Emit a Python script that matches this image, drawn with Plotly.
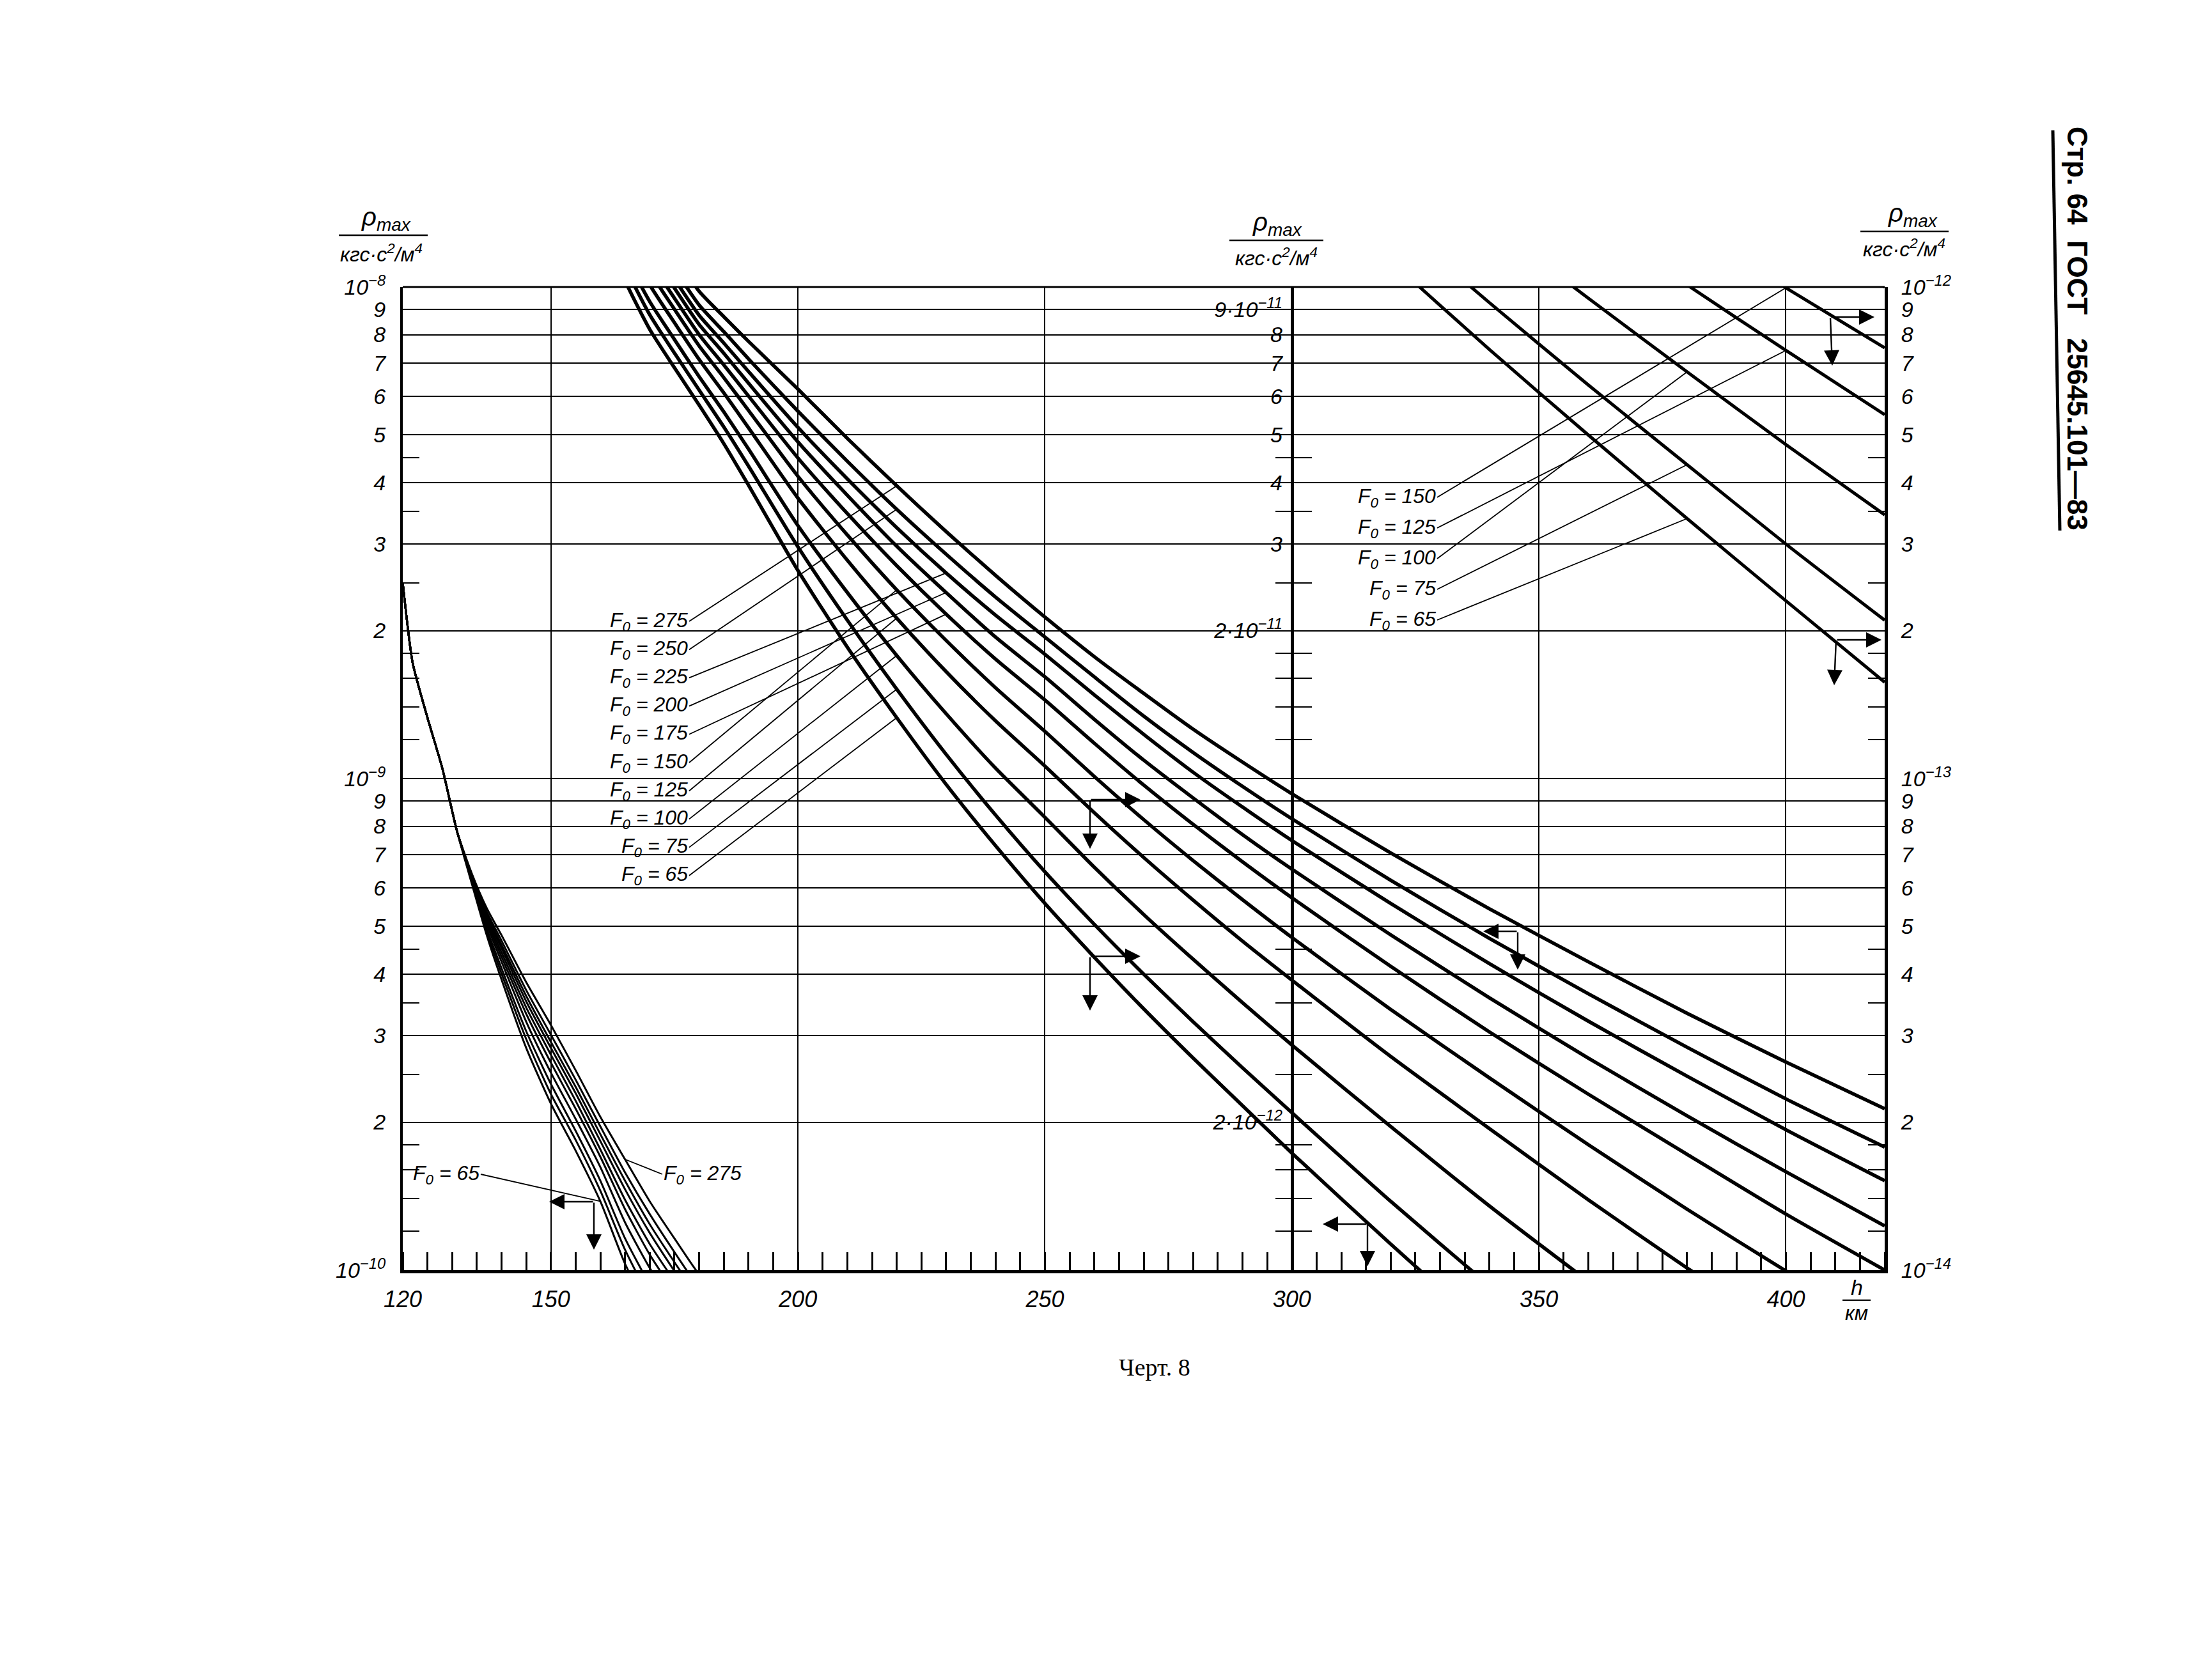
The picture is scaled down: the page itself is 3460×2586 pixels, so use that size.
import math
import plotly.graph_objects as go

# ---------------- data ----------------
h_km = [120, 122, 125, 128, 131, 134, 137, 140, 145, 150, 155, 160, 165, 170, 175, 180, 185, 190,
        200, 210, 220, 230, 240, 250, 260, 270, 280, 290, 300, 320, 340, 360, 380, 400, 420]

F0_levels = [275, 250, 225, 200, 175, 150, 125, 100, 75, 65]

rho_F275 = [2.5e-9, 1.72e-9, 1.33e-9, 1.05e-9, 7.8e-10, 6.4e-10, 5.45e-10, 4.8e-10, 3.85e-10, 3.15e-10,
            2.55e-10, 2.05e-10, 1.68e-10, 1.38e-10, 1.16e-10, 9.8e-11, 8.7e-11, 7.75e-11,
            6.2e-11, 4.92e-11, 3.94e-11, 3.18e-11, 2.59e-11, 2.13e-11, 1.77e-11, 1.49e-11, 1.26e-11, 1.08e-11, 9.31e-12,
            7.06e-12, 5.43e-12, 4.24e-12, 3.33e-12, 2.65e-12, 2.13e-12]
rho_F250 = [2.5e-9, 1.72e-9, 1.33e-9, 1.05e-9, 7.8e-10, 6.37e-10, 5.36e-10, 4.68e-10, 3.71e-10, 3.01e-10,
            2.44e-10, 1.96e-10, 1.58e-10, 1.30e-10, 1.088e-10, 9.19e-11, 8.11e-11, 7.14e-11,
            5.59e-11, 4.42e-11, 3.53e-11, 2.86e-11, 2.34e-11, 1.94e-11, 1.61e-11, 1.34e-11, 1.13e-11, 9.64e-12, 8.28e-12,
            6.21e-12, 4.73e-12, 3.65e-12, 2.84e-12, 2.23e-12, 1.78e-12]
rho_F225 = [2.5e-9, 1.72e-9, 1.33e-9, 1.05e-9, 7.8e-10, 6.34e-10, 5.30e-10, 4.59e-10, 3.61e-10, 2.91e-10,
            2.36e-10, 1.89e-10, 1.52e-10, 1.24e-10, 1.038e-10, 8.76e-11, 7.69e-11, 6.73e-11,
            5.18e-11, 4.07e-11, 3.24e-11, 2.62e-11, 2.15e-11, 1.79e-11, 1.48e-11, 1.23e-11, 1.03e-11, 8.75e-12, 7.48e-12,
            5.57e-12, 4.20e-12, 3.21e-12, 2.48e-12, 1.93e-12, 1.52e-12]
rho_F200 = [2.5e-9, 1.72e-9, 1.33e-9, 1.05e-9, 7.8e-10, 6.32e-10, 5.25e-10, 4.52e-10, 3.52e-10, 2.83e-10,
            2.29e-10, 1.83e-10, 1.46e-10, 1.19e-10, 9.95e-11, 8.39e-11, 7.33e-11, 6.37e-11,
            4.84e-11, 3.77e-11, 2.97e-11, 2.39e-11, 1.94e-11, 1.61e-11, 1.32e-11, 1.09e-11, 9.13e-12, 7.69e-12, 6.54e-12,
            4.81e-12, 3.58e-12, 2.70e-12, 2.06e-12, 1.585e-12, 1.23e-12]
rho_F175 = [2.5e-9, 1.72e-9, 1.33e-9, 1.05e-9, 7.8e-10, 6.30e-10, 5.19e-10, 4.43e-10, 3.42e-10, 2.74e-10,
            2.21e-10, 1.76e-10, 1.39e-10, 1.13e-10, 9.49e-11, 8.0e-11, 6.94e-11, 6.0e-11,
            4.49e-11, 3.46e-11, 2.71e-11, 2.16e-11, 1.75e-11, 1.445e-11, 1.18e-11, 9.70e-12, 8.07e-12, 6.77e-12, 5.72e-12,
            4.15e-12, 3.05e-12, 2.28e-12, 1.72e-12, 1.30e-12, 1.0e-12]
rho_F150 = [2.5e-9, 1.72e-9, 1.33e-9, 1.05e-9, 7.8e-10, 6.27e-10, 5.12e-10, 4.34e-10, 3.32e-10, 2.64e-10,
            2.13e-10, 1.70e-10, 1.33e-10, 1.075e-10, 9.01e-11, 7.59e-11, 6.54e-11, 5.61e-11,
            4.12e-11, 3.13e-11, 2.42e-11, 1.91e-11, 1.53e-11, 1.247e-11, 1.01e-11, 8.25e-12, 6.81e-12, 5.67e-12, 4.75e-12,
            3.39e-12, 2.46e-12, 1.80e-12, 1.33e-12, 9.96e-13, 7.52e-13]
rho_F125 = [2.5e-9, 1.72e-9, 1.33e-9, 1.05e-9, 7.8e-10, 6.24e-10, 5.05e-10, 4.24e-10, 3.20e-10, 2.52e-10,
            2.03e-10, 1.62e-10, 1.25e-10, 1.01e-10, 8.46e-11, 7.12e-11, 6.09e-11, 5.17e-11,
            3.72e-11, 2.78e-11, 2.12e-11, 1.65e-11, 1.31e-11, 1.06e-11, 8.52e-12, 6.91e-12, 5.66e-12, 4.67e-12, 3.89e-12,
            2.72e-12, 1.94e-12, 1.39e-12, 1.01e-12, 7.43e-13, 5.50e-13]
rho_F100 = [2.5e-9, 1.72e-9, 1.33e-9, 1.05e-9, 7.8e-10, 6.20e-10, 4.95e-10, 4.11e-10, 3.06e-10, 2.39e-10,
            1.92e-10, 1.52e-10, 1.16e-10, 9.34e-11, 7.82e-11, 6.57e-11, 5.57e-11, 4.68e-11,
            3.27e-11, 2.39e-11, 1.78e-11, 1.355e-11, 1.05e-11, 8.34e-12, 6.60e-12, 5.29e-12, 4.29e-12, 3.50e-12, 2.87e-12,
            1.96e-12, 1.35e-12, 9.49e-13, 6.72e-13, 4.78e-13, 3.44e-13]
rho_F75 = [2.5e-9, 1.72e-9, 1.33e-9, 1.05e-9, 7.8e-10, 6.16e-10, 4.88e-10, 4.01e-10, 2.95e-10, 2.28e-10,
           1.84e-10, 1.45e-10, 1.10e-10, 8.78e-11, 7.34e-11, 6.17e-11, 5.19e-11, 4.32e-11,
           2.96e-11, 2.10e-11, 1.52e-11, 1.12e-11, 8.43e-12, 6.46e-12, 5.05e-12, 4.0e-12, 3.20e-12, 2.58e-12, 2.09e-12,
           1.38e-12, 9.29e-13, 6.32e-13, 4.35e-13, 3.0e-13, 2.10e-13]
rho_F65 = [2.5e-9, 1.72e-9, 1.33e-9, 1.05e-9, 7.8e-10, 6.10e-10, 4.8e-10, 3.9e-10, 2.83e-10, 2.18e-10,
           1.75e-10, 1.38e-10, 1.03e-10, 8.2e-11, 6.85e-11, 5.75e-11, 4.8e-11, 3.95e-11,
           2.65e-11, 1.85e-11, 1.33e-11, 9.73e-12, 7.3e-12, 5.57e-12, 4.33e-12, 3.40e-12, 2.70e-12, 2.16e-12, 1.73e-12,
           1.13e-12, 7.46e-13, 5.0e-13, 3.38e-13, 2.30e-13, 1.57e-13]

rho_by_level = [rho_F275, rho_F250, rho_F225, rho_F200, rho_F175,
                rho_F150, rho_F125, rho_F100, rho_F75, rho_F65]

x_tick_vals = [120, 150, 200, 250, 300, 350, 400]
x_tick_text = ["120", "150", "200", "250", "300", "350", "400"]
major_mantissas = [1, 2, 3, 4, 5, 6, 7, 8, 9]
minor_mantissas = [1.2, 1.4, 1.6, 1.8, 2.5, 3.5, 4.5]
mid_label_vals = [9e-11, 8e-11, 7e-11, 6e-11, 5e-11, 4e-11, 3e-11, 2e-11, 2e-12]
mid_label_text = ["9·10<sup>−11</sup>", "8", "7", "6", "5", "4", "3", "2·10<sup>−11</sup>", "2·10<sup>−12</sup>"]

# ---------------- geometry ----------------
W, H = 3460, 2586
ML, MR, MT, MB = 622, 520, 441, 607
PW = W - ML - MR
PH = H - MT - MB
H_MIN, H_MAX = 120, 420

FONT = "Liberation Sans Narrow, Liberation Sans, DejaVu Sans, sans-serif"
SERIF = "Liberation Serif, DejaVu Serif, serif"


def paper_x(X):
    return (X - ML) / PW


def paper_y(Y):
    return (MT + PH - Y) / PH


def h_at(X):
    return H_MIN + (X - ML) / PW * (H_MAX - H_MIN)


def log_at(Y, top_exp):
    return top_exp - (Y - MT) / PH * 2.0


def decade_vals(exps, mants, top):
    vals = [m * 10.0 ** e for e in exps for m in mants]
    if top is not None:
        vals.append(10.0 ** top)
    return vals


def decade_text(exps, top):
    out = []
    for e in exps:
        for m in major_mantissas:
            out.append(f"<i>10<sup>−{abs(e)}</sup></i>" if m == 1 else f"<i>{m}</i>")
    out.append(f"<i>10<sup>−{abs(top)}</sup></i>")
    return out


fig = go.Figure()

# each F0 profile is drawn on the three folded density scales
for rho in rho_by_level:
    for yax, w in (("y", 3.0), ("y2", 5.5), ("y3", 5.0)):
        fig.add_trace(go.Scatter(x=h_km, y=rho, yaxis=yax, mode="lines",
                                 line=dict(color="black", width=w, shape="spline", smoothing=0.6),
                                 hoverinfo="skip", showlegend=False))
fig.add_trace(go.Scatter(x=[None], y=[None], yaxis="y4", mode="lines",
                         hoverinfo="skip", showlegend=False))

tick_font = dict(family=FONT, size=34, color="black")


def minor_tick(vals, ln):
    return dict(tickmode="array", tickvals=vals, ticks="inside",
                ticklen=ln, tickwidth=2.4, tickcolor="black", showgrid=False)


fig.update_layout(
    width=W, height=H, template="none",
    paper_bgcolor="white", plot_bgcolor="white",
    margin=dict(l=ML, r=MR, t=MT, b=MB, pad=0),
    showlegend=False,
    xaxis=dict(range=[H_MIN, H_MAX], tickmode="array", tickvals=x_tick_vals,
               ticktext=[f"<i>{t}</i>" for t in x_tick_text],
               showgrid=True, gridcolor="black", gridwidth=2,
               showline=True, linecolor="black", linewidth=5, ticks="",
               ticklabelstandoff=10, tickfont=dict(family=FONT, size=36, color="black"),
               minor=dict(tickmode="linear", tick0=120, dtick=5, ticks="inside", ticklen=28,
                          tickwidth=2.6, tickcolor="black", showgrid=False),
               zeroline=False, automargin=False, fixedrange=True),
    yaxis=dict(type="log", range=[-10, -8], tickmode="array",
               tickvals=decade_vals([-10, -9], major_mantissas, -8),
               ticktext=decade_text([-10, -9], -8),
               showgrid=True, gridcolor="black", gridwidth=2,
               showline=True, linecolor="black", linewidth=4, ticks="",
               ticklabelstandoff=16, tickfont=tick_font,
               minor=minor_tick(decade_vals([-10, -9], minor_mantissas, None), 26),
               zeroline=False, automargin=False, fixedrange=True),
    yaxis2=dict(type="log", range=[-12, -10], overlaying="y", anchor="free", position=0.6,
                side="left", tickmode="array", tickvals=mid_label_vals,
                ticktext=[f"<i>{t}</i>" for t in mid_label_text],
                showgrid=False, showline=True, linecolor="black", linewidth=5, ticks="",
                ticklabelstandoff=6, tickfont=tick_font,
                minor=minor_tick(decade_vals([-12, -11], minor_mantissas, None), 28),
                zeroline=False, automargin=False, fixedrange=True),
    yaxis4=dict(type="log", range=[-12, -10], overlaying="y", anchor="free", position=0.6,
                side="right", showticklabels=False, showgrid=False, showline=False, ticks="",
                minor=minor_tick(decade_vals([-12, -11], minor_mantissas, None), 26),
                zeroline=False, automargin=False, fixedrange=True),
    yaxis3=dict(type="log", range=[-14, -12], overlaying="y", anchor="x", side="right",
                tickmode="array", tickvals=decade_vals([-14, -13], major_mantissas, -12),
                ticktext=decade_text([-14, -13], -12),
                showgrid=False, showline=True, linecolor="black", linewidth=5, ticks="",
                ticklabelstandoff=14, tickfont=tick_font,
                minor=minor_tick(decade_vals([-14, -13], minor_mantissas, None), 26),
                zeroline=False, automargin=False, fixedrange=True),
)

ann = []


def text_at(X, Y, text, size, family=FONT, **kw):
    ann.append(dict(xref="paper", yref="paper", x=paper_x(X), y=paper_y(Y), text=text,
                    xanchor="center", yanchor="middle",
                    showarrow=False, font=dict(family=family, size=size, color="black"), **kw))


# axis titles (fractions)
num = "<i>ρ<sub>max</sub></i>"
den = "<i>кгс·с<sup>2</sup>/м<sup>4</sup></i>"
for nx, ny, dx, dy in ((596, 334, 588, 388), (1990, 342, 1988, 394), (2984, 328, 2970, 380)):
    text_at(nx, ny, num, 40)
    text_at(dx, dy, den, 32)

# h / km label
text_at(2896, 2006, "<i>h</i>", 34)
text_at(2896, 2047, "<i>км</i>", 31)

# caption and page header
text_at(1798, 2131, "Черт. 8", 38, family=SERIF)
text_at(3242, 506, "<b>Стр. 64  ГОСТ   25645.101—83</b>", 44,
        family="Liberation Sans, DejaVu Sans, sans-serif", textangle=90)

lab_font = dict(family=FONT, size=32, color="black")


def leader(yref, top_exp, level_idx, target_h, label_X, label_Y, anchor):
    rho = rho_by_level[level_idx]
    i = h_km.index(target_h)
    ann.append(dict(xref="x", yref=yref, x=h_km[i], y=math.log10(rho[i]),
                    axref="x", ayref=yref, ax=h_at(label_X), ay=log_at(label_Y, top_exp),
                    text=f"<i>F<sub>0</sub> = {F0_levels[level_idx]}</i>", xanchor=anchor,
                    yanchor="middle",
                    showarrow=True, arrowhead=0, arrowwidth=1.8, arrowcolor="black", font=lab_font))


# middle F0 labels
mid_targets = [220, 220, 230, 230, 230, 220, 220, 220, 220, 220]
for k in range(10):
    leader("y2", -10, k, mid_targets[k], 1070, 964 + 44.2 * k, "right")

# upper-right F0 labels (150 ... 65)
tr_targets = [400, 400, 380, 380, 380]
for j, k in enumerate(range(5, 10)):
    leader("y3", -12, k, tr_targets[j], 2240, 770 + 48 * j, "right")

# lower-left bundle labels
leader("y", -8, 9, 160, 744, 1829, "right")
leader("y", -8, 0, 165, 1028, 1829, "left")


def arrow(tipX, tipY, tailX, tailY):
    ann.append(dict(xref="paper", yref="paper", x=paper_x(tipX), y=paper_y(tipY),
                    axref="pixel", ayref="pixel", ax=tailX - tipX, ay=tailY - tipY,
                    text="", showarrow=True, arrowhead=2, arrowsize=2.0, arrowwidth=2.4,
                    arrowcolor="black"))


# reading-direction indicators (corner, horizontal tip, vertical tip)
indicators = [
    ((921, 1872), (851, 1872), (921, 1947)),
    ((1697, 1243), (1776, 1243), (1697, 1320)),
    ((1697, 1488), (1776, 1488), (1697, 1573)),
    ((2366, 1449), (2312, 1449), (2366, 1509)),
    ((2131, 1907), (2061, 1907), (2131, 1973)),
    ((2855, 488), (2924, 488), (2858, 564)),
    ((2864, 993), (2935, 993), (2861, 1064)),
]
for corner, htip, vtip in indicators:
    arrow(htip[0], htip[1], corner[0], corner[1])
    arrow(vtip[0], vtip[1], corner[0], corner[1])

shapes = [
    dict(type="line", xref="paper", yref="paper", x0=0, x1=1, y0=1, y1=1,
         line=dict(color="black", width=3)),
    dict(type="line", xref="paper", yref="paper", x0=paper_x(3203), x1=paper_x(3214),
         y0=paper_y(196), y1=paper_y(822), line=dict(color="black", width=5)),
    dict(type="line", xref="paper", yref="paper", x0=paper_x(2874), x1=paper_x(2918),
         y0=paper_y(2026), y1=paper_y(2026), line=dict(color="black", width=2)),
]
for x0, x1, y in ((522, 661, 360), (1915, 2062, 368), (2902, 3040, 354)):
    shapes.append(dict(type="line", xref="paper", yref="paper", x0=paper_x(x0), x1=paper_x(x1),
                       y0=paper_y(y), y1=paper_y(y), line=dict(color="black", width=2.5)))

fig.update_layout(annotations=ann, shapes=shapes)
fig.write_html("out.html")
